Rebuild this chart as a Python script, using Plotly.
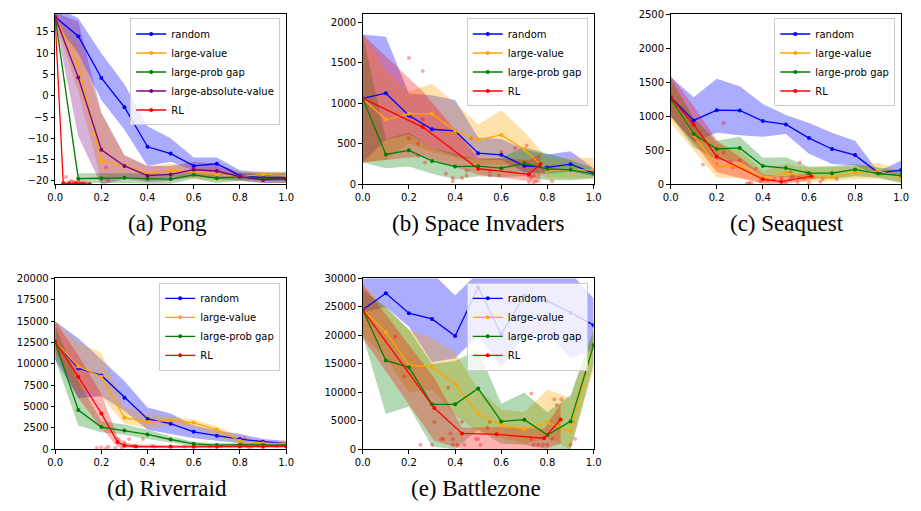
import plotly.graph_objects as go

X = [0.0, 0.1, 0.2, 0.3, 0.4, 0.5, 0.6, 0.7, 0.8, 0.9, 1.0]
X_TICKS = [0.0, 0.2, 0.4, 0.6, 0.8, 1.0]
X_TICK_TEXT = ["0.0", "0.2", "0.4", "0.6", "0.8", "1.0"]

# ---------------- (a) Pong ----------------
pong_random = [18.5, 14, 4.2, -2.7, -12, -13.6, -16.5, -16, -18.8, -19.3, -19.3]
pong_random_hi = [21, 18.2, 10, 2.7, -7.2, -10, -14.5, -14.5, -17.5, -18, -18]
pong_random_lo = [17, 10, -1, -8, -16.5, -15.5, -17.5, -18, -19.5, -20, -20]
pong_value = [18.5, 7.5, -15.3, -16.5, -18.3, -17.5, -18, -18.5, -19, -18.5, -18.8]
pong_value_hi = [19.5, 12, -4, -14, -16.5, -16, -16.5, -17, -18, -17.8, -17.8]
pong_value_lo = [17.5, 1, -20, -19, -20, -19, -19.5, -20, -20, -19.5, -19.8]
pong_gap = [18.5, -19.5, -19.4, -19.3, -19.5, -19.6, -18.6, -19.4, -19.1, -19.5, -19.5]
pong_gap_hi = [19, -18.2, -18.2, -18.2, -18.3, -18.3, -17.8, -18.3, -18.2, -18.3, -18.3]
pong_gap_lo = [18, -20.5, -20.5, -20.5, -20.7, -20.7, -19.5, -20.5, -20, -20.5, -20.5]
pong_abs = [18.5, 4.3, -12.7, -16.5, -18.8, -18.5, -17.4, -17.7, -19, -19.8, -19.5]
pong_abs_hi = [19.5, 17.5, -4, -14, -16.5, -16.5, -15.5, -16, -18, -18.5, -18.5]
pong_abs_lo = [17.5, -9.5, -21, -19.5, -20.2, -20, -19, -19.5, -20, -20.5, -20.5]
pong_rl_x = [0.0, 0.035, 0.06, 0.09, 0.12, 0.15]
pong_rl = [18, -20.6, -20.7, -20.6, -20.7, -20.8]
pong_rl_hi = [19, -20.0, -20.2, -20.0, -20.2, -20.3]
pong_rl_lo = [17.5, -21, -21, -21, -21, -21]
pong_pts_x = [0.047, 0.06, 0.07, 0.08, 0.1, 0.11, 0.13, 0.22, 0.23]
pong_pts_y = [-19.1, -20.3, -20.0, -20.3, -20.3, -20.5, -20.6, -16.9, -20.0]

# ---------------- (b) Space Invaders ----------------
si_random = [1060, 1125, 850, 680, 660, 385, 365, 230, 210, 250, 140]
si_random_hi = [1850, 1820, 1120, 1100, 1040, 580, 560, 430, 370, 410, 200]
si_random_lo = [270, 550, 620, 450, 350, 300, 300, 150, 130, 160, 100]
si_value = [1060, 800, 870, 870, 660, 550, 610, 430, 170, 180, 180]
si_value_hi = [1850, 1400, 1150, 1240, 1000, 740, 910, 650, 320, 330, 330]
si_value_lo = [270, 300, 500, 400, 330, 250, 250, 200, 80, 70, 80]
si_gap = [1060, 370, 420, 290, 220, 225, 200, 260, 190, 180, 130]
si_gap_hi = [1850, 560, 640, 450, 380, 300, 330, 460, 380, 300, 200]
si_gap_lo = [270, 200, 220, 130, 60, 100, 90, 100, 50, 50, 70]
si_rl_x = [0.0, 0.26, 0.5, 0.72, 0.77]
si_rl = [1060, 707, 193, 125, 253]
si_rl_hi = [1850, 1150, 330, 300, 380]
si_rl_lo = [270, 350, 120, 40, 20]
si_pts_x = [0.2, 0.26, 0.2, 0.21, 0.26, 0.24, 0.24, 0.27, 0.36, 0.39, 0.39, 0.43, 0.45,
            0.45, 0.47, 0.55, 0.55, 0.59, 0.6, 0.66, 0.71, 0.72, 0.73, 0.74, 0.75, 0.72,
            0.74, 0.78, 0.78, 0.82, 0.82]
si_pts_y = [1560, 1400, 570, 830, 800, 500, 350, 270, 130, 80, 40, 80, 170,
            110, 570, 170, 110, 110, 400, 450, 480, 100, 80, 110, 40, 30,
            10, 160, 200, 220, 40]

# ---------------- (c) Seaquest ----------------
sq_random = [1280, 940, 1090, 1085, 930, 880, 680, 520, 430, 170, 210]
sq_random_hi = [1580, 1280, 1550, 1440, 1180, 1020, 900, 760, 640, 190, 350]
sq_random_lo = [1000, 620, 760, 720, 700, 740, 450, 300, 280, 130, 150]
sq_value = [1260, 720, 270, 270, 90, 170, 100, 110, 170, 200, 100]
sq_value_hi = [1550, 950, 600, 500, 200, 300, 250, 250, 270, 320, 200]
sq_value_lo = [900, 500, 100, 90, 20, 50, 30, 50, 80, 80, 30]
sq_gap = [1260, 740, 520, 535, 270, 240, 165, 165, 220, 160, 130]
sq_gap_hi = [1550, 980, 640, 700, 390, 400, 260, 270, 300, 250, 200]
sq_gap_lo = [1000, 550, 360, 330, 130, 100, 80, 80, 120, 100, 20]
sq_rl_x = [0.0, 0.1, 0.2, 0.4, 0.48, 0.61]
sq_rl = [1280, 880, 410, 76, 40, 120]
sq_rl_hi = [1600, 1150, 650, 150, 120, 160]
sq_rl_lo = [1000, 620, 180, 10, 5, 60]
sq_pts_x = [0.14, 0.2, 0.23, 0.23, 0.26, 0.27, 0.3, 0.33, 0.34, 0.35, 0.37, 0.39, 0.42,
            0.45, 0.48, 0.5, 0.52, 0.52, 0.53, 0.55, 0.56, 0.56, 0.58, 0.59, 0.6, 0.62,
            0.65, 0.66, 0.72]
sq_pts_y = [290, 300, 900, 470, 330, 250, 350, 10, 20, 20, 230, 50, 60,
            80, 90, 20, 180, 80, 120, 30, 320, 120, 90, 180, 20, 100,
            40, 80, 80]

# ---------------- (d) Riverraid ----------------
rr_random = [12600, 9500, 8650, 6050, 3550, 3000, 2050, 1600, 1200, 900, 700]
rr_random_hi = [15000, 13000, 10500, 8000, 4900, 4200, 2800, 2200, 1800, 1200, 1000]
rr_random_lo = [10500, 6000, 6200, 4500, 2300, 1800, 1300, 1000, 700, 500, 400]
rr_value = [12600, 9700, 8500, 3700, 3200, 3400, 3100, 2300, 1000, 700, 700]
rr_value_hi = [15000, 12500, 11300, 5000, 4200, 3800, 3500, 2700, 1500, 1000, 900]
rr_value_lo = [11000, 7000, 6200, 3000, 2500, 2800, 2600, 1500, 600, 400, 400]
rr_gap = [12600, 4600, 2600, 2200, 1750, 1150, 650, 500, 550, 500, 500]
rr_gap_hi = [14500, 8000, 3300, 2900, 2300, 1500, 900, 700, 700, 700, 600]
rr_gap_lo = [10500, 2800, 2000, 1700, 1200, 800, 400, 300, 350, 350, 350]
rr_rl_x = [0.0, 0.1, 0.2, 0.27, 0.3, 0.35, 0.5, 0.6, 0.7, 0.8, 0.9, 1.0]
rr_rl = [12600, 8500, 4200, 850, 450, 330, 300, 300, 300, 320, 330, 350]
rr_rl_hi = [15000, 11000, 6500, 1500, 800, 600, 500, 500, 550, 600, 600, 600]
rr_rl_lo = [11500, 6000, 2500, 300, 150, 150, 150, 150, 150, 150, 150, 150]
rr_pts_x = [0.18, 0.2, 0.22, 0.23, 0.26, 0.27, 0.29, 0.3, 0.32, 0.34, 0.38, 0.42, 0.43,
            0.5, 0.56, 0.6, 0.67, 0.72, 0.8, 0.81, 0.82, 0.83, 0.84, 0.85, 0.88, 0.9,
            0.91, 0.96, 0.98]
rr_pts_y = [150, 250, 100, 300, 150, 1200, 150, 800, 1200, 400, 1200, 400, 300,
            400, 300, 500, 300, 400, 300, 600, 1300, 400, 200, 300, 400, 200,
            500, 400, 500]

# ---------------- (e) Battlezone ----------------
bz_random = [24500, 27400, 23900, 22900, 19900, 28400, 20200, 27000, 26000, 24000, 21800]
bz_random_hi = [31000, 31000, 31000, 31000, 27000, 31000, 31000, 31000, 31000, 31000, 26500]
bz_random_lo = [24000, 25000, 21500, 15300, 16000, 20000, 14500, 20000, 20500, 16000, 17500]
bz_value = [24500, 20600, 14800, 14500, 11500, 6200, 4300, 3600, 4700, 3200, 18500]
bz_value_hi = [29000, 25000, 21000, 19500, 17000, 10500, 7000, 6500, 10500, 9000, 21000]
bz_value_lo = [20000, 16000, 10000, 10500, 6000, 3000, 2000, 1000, 2000, 0, 14000]
bz_gap = [24500, 15600, 14400, 7900, 7900, 10700, 4900, 5200, 2500, 4900, 18300]
bz_gap_hi = [28000, 25000, 21000, 15000, 15500, 17500, 8000, 10000, 6500, 9500, 21000]
bz_gap_lo = [20000, 6200, 7500, 500, 0, 3500, 1000, 800, 0, 0, 15000]
bz_rl_x = [0.0, 0.31, 0.43, 0.58, 0.785, 0.857]
bz_rl = [24500, 7250, 2800, 2630, 1950, 5250]
bz_rl_hi = [29000, 12500, 3800, 3900, 3600, 8000]
bz_rl_lo = [19500, 1500, 0, 0, 0, 1000]
bz_pts_x = [0.14, 0.18, 0.31, 0.3, 0.25, 0.34, 0.35, 0.37, 0.38, 0.39, 0.39, 0.41, 0.43,
            0.44, 0.49, 0.5, 0.51, 0.54, 0.55, 0.73, 0.73, 0.74, 0.76, 0.78, 0.8, 0.82,
            0.83, 0.84, 0.86, 0.9, 0.91, 0.92]
bz_pts_y = [19800, 12800, 4800, 800, 800, 1800, 1800, 10800, 2800, 1800, 800, 800, 4800,
            800, 1800, 1800, 800, 3800, 4800, 1800, 9800, 800, 800, 800, 800, 1800,
            8800, 7800, 8800, 800, 4800, 1800]

COLORS = {
    "random": ("blue", "rgba(0,0,255,0.33)"),
    "large-value": ("orange", "rgba(255,165,0,0.33)"),
    "large-prob gap": ("green", "rgba(0,128,0,0.30)"),
    "large-absolute-value": ("purple", "rgba(128,0,128,0.30)"),
    "RL": ("red", "rgba(255,0,0,0.30)"),
}

games = [
    dict(
        caption="(a) Pong", yrange=[-20.85, 19.2], yticks=[-20, -15, -10, -5, 0, 5, 10, 15],
        series=[
            ("random", X, pong_random, pong_random_lo, pong_random_hi),
            ("large-value", X, pong_value, pong_value_lo, pong_value_hi),
            ("large-prob gap", X, pong_gap, pong_gap_lo, pong_gap_hi),
            ("large-absolute-value", X, pong_abs, pong_abs_lo, pong_abs_hi),
            ("RL", pong_rl_x, pong_rl, pong_rl_lo, pong_rl_hi),
        ],
        pts=(pong_pts_x, pong_pts_y),
    ),
    dict(
        caption="(b) Space Invaders", yrange=[0, 2100], yticks=[0, 500, 1000, 1500, 2000],
        series=[
            ("random", X, si_random, si_random_lo, si_random_hi),
            ("large-value", X, si_value, si_value_lo, si_value_hi),
            ("large-prob gap", X, si_gap, si_gap_lo, si_gap_hi),
            ("RL", si_rl_x, si_rl, si_rl_lo, si_rl_hi),
        ],
        pts=(si_pts_x, si_pts_y),
    ),
    dict(
        caption="(c) Seaquest", yrange=[0, 2500], yticks=[0, 500, 1000, 1500, 2000, 2500],
        series=[
            ("random", X, sq_random, sq_random_lo, sq_random_hi),
            ("large-value", X, sq_value, sq_value_lo, sq_value_hi),
            ("large-prob gap", X, sq_gap, sq_gap_lo, sq_gap_hi),
            ("RL", sq_rl_x, sq_rl, sq_rl_lo, sq_rl_hi),
        ],
        pts=(sq_pts_x, sq_pts_y),
    ),
    dict(
        caption="(d) Riverraid", yrange=[0, 20000],
        yticks=[0, 2500, 5000, 7500, 10000, 12500, 15000, 17500, 20000],
        series=[
            ("random", X, rr_random, rr_random_lo, rr_random_hi),
            ("large-value", X, rr_value, rr_value_lo, rr_value_hi),
            ("large-prob gap", X, rr_gap, rr_gap_lo, rr_gap_hi),
            ("RL", rr_rl_x, rr_rl, rr_rl_lo, rr_rl_hi),
        ],
        pts=(rr_pts_x, rr_pts_y),
    ),
    dict(
        caption="(e) Battlezone", yrange=[0, 30000],
        yticks=[0, 5000, 10000, 15000, 20000, 25000, 30000],
        series=[
            ("random", X, bz_random, bz_random_lo, bz_random_hi),
            ("large-value", X, bz_value, bz_value_lo, bz_value_hi),
            ("large-prob gap", X, bz_gap, bz_gap_lo, bz_gap_hi),
            ("RL", bz_rl_x, bz_rl, bz_rl_lo, bz_rl_hi),
        ],
        pts=(bz_pts_x, bz_pts_y),
    ),
]

W, H = 921, 511
# plot-area boxes in pixels: (left, right, top, bottom)
boxes = [
    (48, 283, 8.3, 182.7),
    (361, 596, 8.3, 182.7),
    (674.3, 909, 8.3, 182.7),
    (48, 283, 279, 454),
    (361, 596, 279, 454),
]
caption_pos = [(162, 223), (478, 223), (793, 223), (162, 494), (476, 494)]

fig = go.Figure()
layout = dict(
    width=W, height=H, margin=dict(l=0, r=0, t=0, b=0),
    paper_bgcolor="white", plot_bgcolor="white",
    font=dict(family="DejaVu Sans", size=10, color="black"),
    annotations=[],
)

for i, g in enumerate(games):
    n = i + 1
    xa = "x" if n == 1 else f"x{n}"
    ya = "y" if n == 1 else f"y{n}"
    lg = "legend" if n == 1 else f"legend{n}"
    l, r, t, b = boxes[i]

    # bands
    for name, xs, ys, lo, hi in g["series"]:
        fig.add_trace(go.Scatter(
            x=list(xs) + list(xs)[::-1], y=list(hi) + list(lo)[::-1],
            fill="toself", fillcolor=COLORS[name][1], line=dict(width=0),
            mode="lines", hoverinfo="skip", showlegend=False, xaxis=xa, yaxis=ya,
        ))
    # individual RL runs
    fig.add_trace(go.Scatter(
        x=g["pts"][0], y=g["pts"][1], mode="markers",
        marker=dict(color="rgba(255,0,0,0.35)", size=4), showlegend=False,
        hoverinfo="skip", xaxis=xa, yaxis=ya,
    ))
    # mean lines
    for name, xs, ys, lo, hi in g["series"]:
        fig.add_trace(go.Scatter(
            x=xs, y=ys, mode="lines+markers", name=name,
            line=dict(color=COLORS[name][0], width=1.3),
            marker=dict(color=COLORS[name][0], size=4),
            xaxis=xa, yaxis=ya, legend=lg, showlegend=True,
        ))

    axis_common = dict(
        showline=True, mirror=True, linecolor="black", linewidth=1,
        ticks="outside", ticklen=3.5, tickwidth=0.8, tickcolor="black",
        showgrid=False, zeroline=False,
        tickfont=dict(family="DejaVu Sans", size=10, color="black"),
    )
    layout["xaxis" if n == 1 else f"xaxis{n}"] = dict(
        domain=[l / W, r / W], anchor=ya, range=[0, 1],
        tickvals=X_TICKS, ticktext=X_TICK_TEXT, **axis_common,
    )
    layout["yaxis" if n == 1 else f"yaxis{n}"] = dict(
        domain=[1 - b / H, 1 - t / H], anchor=xa, range=g["yrange"],
        tickvals=g["yticks"], tickformat="d", **axis_common,
    )
    layout[lg] = dict(
        x=(r - 6) / W, y=1 - (t + 4.5) / H, xanchor="right", yanchor="top",
        bgcolor="rgba(255,255,255,0.8)", bordercolor="#cccccc", borderwidth=1,
        font=dict(family="DejaVu Sans", size=10, color="black"),
        itemwidth=30, tracegroupgap=0,
    )
    cx, cy = caption_pos[i]
    layout["annotations"].append(dict(
        text=g["caption"], x=cx / W, y=1 - cy / H, xref="paper", yref="paper",
        xanchor="center", yanchor="middle", showarrow=False,
        font=dict(family="Liberation Serif", size=23, color="black"),
    ))

fig.update_layout(**layout)
fig.write_html("out.html")
